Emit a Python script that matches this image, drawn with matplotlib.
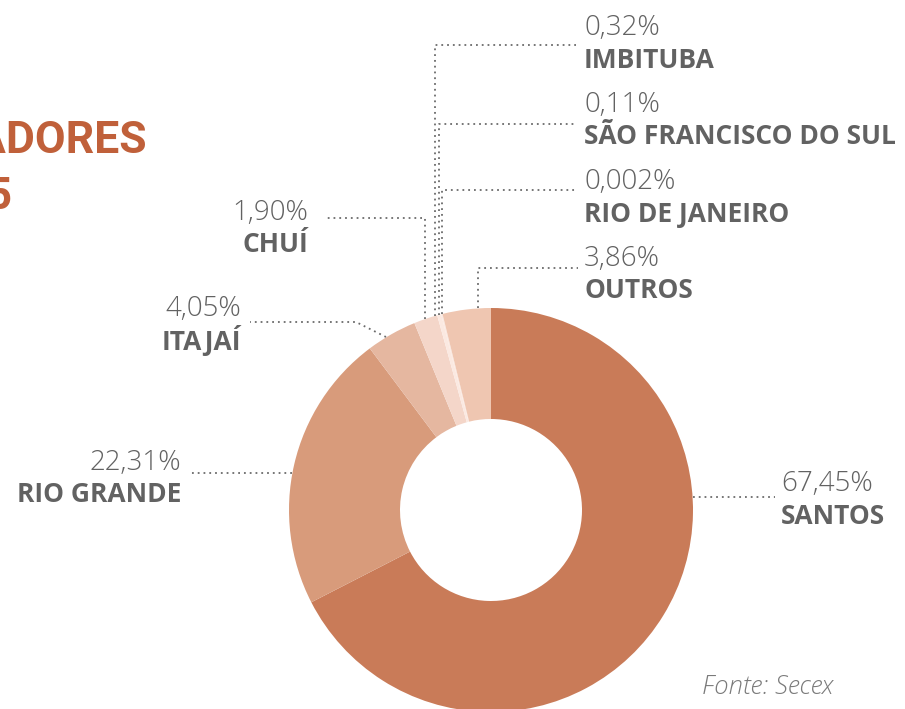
import numpy as np
import matplotlib.pyplot as plt

portos = ["SANTOS", "RIO GRANDE", "ITAJAÍ", "CHUÍ", "IMBITUBA",
          "SÃO FRANCISCO DO SUL", "RIO DE JANEIRO", "OUTROS"]
valores = [67.45, 22.31, 4.05, 1.90, 0.32, 0.11, 0.002, 3.86]
rotulos = ["67,45%", "22,31%", "4,05%", "1,90%", "0,32%", "0,11%", "0,002%", "3,86%"]
cores = ["#C97B58", "#D89B7B", "#E5B7A0", "#F4D6C9", "#FBE9E1", "#FBE9E1",
         "#FBE9E1", "#EFC6B1"]

W, H = 905, 709
cx, cy, R = 491, 510, 202          # pixel coords, y from top
gray = "#626262"
dot = dict(color="#6b6b6b", lw=1.3, ls=(0, (1, 2.2)))

fig = plt.figure(figsize=(W / 100, H / 100), dpi=100)
ax = fig.add_axes([0, 0, 1, 1])


def Y(y):
    return H - y


ax.pie(valores, colors=cores, startangle=90, counterclock=False,
       center=(cx, Y(cy)), radius=R,
       wedgeprops=dict(width=R - 91, edgecolor="none"))
ax.set_xlim(0, W)
ax.set_ylim(0, H)
ax.set_aspect("equal")
ax.axis("off")


def edge_y(x):
    # top of the circle above x (pixel coords)
    return cy - np.sqrt(R ** 2 - (x - cx) ** 2)


def edge_x(y, side):
    return cx + side * np.sqrt(R ** 2 - (y - cy) ** 2)


def line(xs, ys):
    ax.plot(xs, [Y(v) for v in ys], **dot)


# leader lines
line([edge_x(497, 1), 775], [497, 497])                  # santos
line([edge_x(473, -1), 188], [473, 473])                 # rio grande
line([386, 356, 250], [337, 322, 322])                   # itajai
line([425, 425, 325], [edge_y(425), 218, 218])           # chui
line([435, 435, 576], [edge_y(435), 45, 45])             # imbituba
line([438.5, 438.5, 576], [edge_y(438.5), 124, 124])     # sao francisco
line([442, 442, 576], [edge_y(442), 190, 190])           # rio de janeiro
line([478, 478, 578], [edge_y(478), 268, 268])           # outros

# label positions (x, y of percentage, alignment)
pos = [(781, 484, "left"), (181, 463, "right"), (241, 309, "right"),
       (308, 213, "right"), (584, 28, "left"), (584, 105, "left"),
       (584, 182, "left"), (584, 259, "left")]

for nome, rot, (x, y, ha) in zip(portos, rotulos, pos):
    ax.text(x, Y(y), rot, ha=ha, va="center", fontsize=20,
            family="Open Sans", fontweight="light", color=gray)
    ax.text(x, Y(y + 32), nome, ha=ha, va="center", fontsize=19,
            family="Open Sans", fontweight="bold", color=gray)

ax.text(833, Y(688), "Fonte: Secex", ha="right", va="center", fontsize=18.5,
        family="Open Sans", style="italic", fontweight="light", color="#7a7a7a")

# title, cut at the left edge like the original crop
titulo = dict(ha="right", va="center", fontsize=32, fontweight="bold",
              family="Roboto", color="#C0603A")
ax.text(147, Y(141), "EXPORTADORES", **titulo)
ax.text(13, Y(197), "2015", **titulo)

fig.savefig("out.png", dpi=100)
